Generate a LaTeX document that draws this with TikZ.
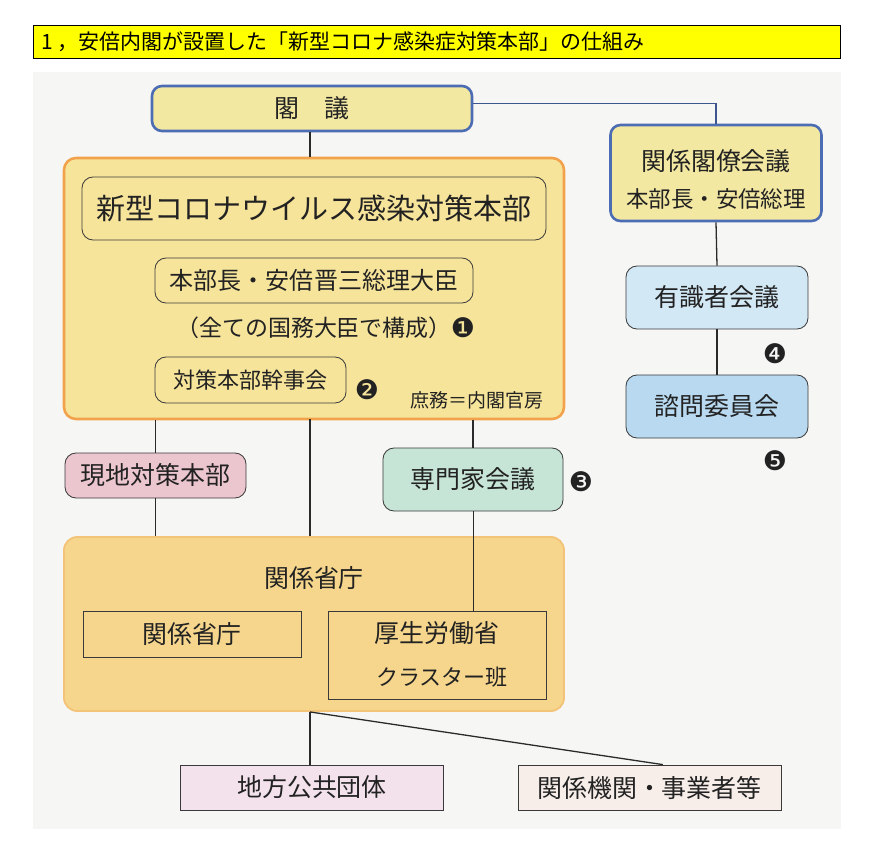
\documentclass[tikz,border=0pt]{standalone}
\usepackage{fontspec}
\setmainfont{Noto Sans CJK JP}
\newfontfamily\dvs{DejaVu Sans}
\newcommand\pxu{0.03cm}
\newcommand\fsTitle{\fontsize{17.9pt}{21pt}\selectfont}
\newcommand\fsA{\fontsize{21.3pt}{25pt}\selectfont}
\newcommand\fsB{\fontsize{24.75pt}{29pt}\selectfont}
\newcommand\fsC{\fontsize{20.5pt}{24pt}\selectfont}
\newcommand\fsD{\fontsize{19.6pt}{23pt}\selectfont}
\newcommand\fsE{\fontsize{18.8pt}{22pt}\selectfont}
\newcommand\fsF{\fontsize{16.2pt}{19pt}\selectfont}
\newcommand\fsG{\fontsize{19.2pt}{22pt}\selectfont}
\newcommand\fsN{\dvs\fontsize{23pt}{26pt}\selectfont}
\definecolor{titley}{HTML}{FFFF00}
\definecolor{panel}{HTML}{F6F6F5}
\definecolor{kakugif}{HTML}{F3E8A2}
\definecolor{blueb}{HTML}{4C6CB3}
\definecolor{hqfill}{HTML}{F7E49B}
\definecolor{orangeb}{HTML}{F1A24B}
\definecolor{lblue}{HTML}{D3E8F5}
\definecolor{mblue}{HTML}{B8D9F0}
\definecolor{pinkf}{HTML}{ECC6CF}
\definecolor{greenf}{HTML}{C7E5D7}
\definecolor{minf}{HTML}{F6D68C}
\definecolor{minb}{HTML}{F4C37A}
\definecolor{lavf}{HTML}{F3E2EC}
\definecolor{beigef}{HTML}{F7EEEA}
\definecolor{boxline}{HTML}{3A3A3A}
\definecolor{linec}{HTML}{2A2A2A}
\definecolor{txt}{HTML}{222222}
\tikzset{
  lbl/.style={inner sep=0pt, text=txt},
  titlebar/.style={draw=black, line width=0.8pt, fill=titley, inner sep=0pt},
  bluebox/.style={draw=blueb, line width=2.2pt, rounded corners=0.3cm, fill=kakugif, inner sep=0pt, text=txt},
  orangebox/.style={draw=orangeb, line width=2.2pt, rounded corners=0.36cm, fill=hqfill, inner sep=0pt},
  minbox/.style={draw=minb, line width=1.6pt, rounded corners=0.4cm, fill=minf, inner sep=0pt},
  thinbox/.style={draw=boxline, line width=0.7pt, rounded corners=0.33cm, inner sep=0pt, text=txt},
  sqbox/.style={draw=boxline, line width=0.7pt, inner sep=0pt, text=txt},
  conn/.style={draw=linec, line width=1.1pt},
  thinconn/.style={draw=linec, line width=0.6pt},
  blueconn/.style={draw=blueb!80!black, line width=0.9pt},
}
\begin{document}
\begin{tikzpicture}[x=0.03cm,y=-0.03cm]
\useasboundingbox (0,0) rectangle (869,841);
\fill[white] (0,0) rectangle (869,841);
\fill[panel] (33,72) rectangle (841,829);

% title
\node[titlebar, minimum width=807*\pxu, minimum height=33*\pxu] (title) at (436.5,41.5) {};
\node[lbl, anchor=west, text=black, font=\fsTitle] (titletxt) at (41,41.5) {1 ，安倍内閣が設置した「新型コロナ感染症対策本部」の仕組み};

% top
\node[bluebox, minimum width=320*\pxu, minimum height=45*\pxu, font=\fsA] (kakugi) at (312,108.5) {閣　議};

% HQ big box
\node[orangebox, minimum width=500*\pxu, minimum height=261*\pxu] (hq) at (314,288.5) {};
\coordinate (hqmid) at (310,419);
\node[thinbox, minimum width=464*\pxu, minimum height=63*\pxu, font=\fsB] (shingata) at (314,208.5) {新型コロナウイルス感染対策本部};
\node[thinbox, minimum width=318*\pxu, minimum height=45*\pxu, font=\fsC] (honbucho) at (314,280.5) {本部長・安倍晋三総理大臣};
\node[lbl, font=\fsD] (zenbu) at (314,328) {（全ての国務大臣で構成）};
\node[lbl, font=\fsN] (n1) at (463,328) {❶};
\node[thinbox, minimum width=191*\pxu, minimum height=46*\pxu, font=\fsE] (kanji) at (250.5,380) {対策本部幹事会};
\node[lbl, font=\fsN] (n2) at (367,390) {❷};
\node[lbl, font=\fsF] (shomu) at (477,400) {庶務＝内閣官房};

% right column
\node[bluebox, minimum width=211*\pxu, minimum height=96*\pxu] (kakuryo) at (716,173) {};
\node[lbl, font=\fsA] (kakuryo1) at (716,161) {関係閣僚会議};
\node[lbl, font=\fsG] (kakuryo2) at (716,199) {本部長・安倍総理};
\node[thinbox, fill=lblue, minimum width=182*\pxu, minimum height=63*\pxu, font=\fsA] (yushiki) at (717,297.5) {有識者会議};
\node[thinbox, fill=mblue, minimum width=182*\pxu, minimum height=63*\pxu, font=\fsA] (shimon) at (717,406.5) {諮問委員会};
\node[lbl, font=\fsN] (n4) at (775,354) {❹};
\node[lbl, font=\fsN] (n5) at (775,461) {❺};

% middle row
\node[thinbox, fill=pinkf, minimum width=181*\pxu, minimum height=45*\pxu, font=\fsA] (genchi) at (155.5,475.5) {現地対策本部};
\node[thinbox, fill=greenf, minimum width=180*\pxu, minimum height=63*\pxu, font=\fsA] (senmonka) at (473,479.5) {専門家会議};
\node[lbl, font=\fsN] (n3) at (581,482) {❸};

% ministries
\node[minbox, minimum width=500*\pxu, minimum height=174*\pxu] (min) at (314,624) {};
\node[lbl, font=\fsA] (minlbl) at (314,578) {関係省庁};
\node[sqbox, minimum width=218*\pxu, minimum height=46*\pxu, font=\fsA] (kankei) at (192,634) {関係省庁};
\node[sqbox, minimum width=218*\pxu, minimum height=88*\pxu] (kosei) at (437,655) {};
\node[lbl, font=\fsA] (kosei1) at (437,633) {厚生労働省};
\node[lbl, font=\fsE] (cluster) at (442,677) {クラスター班};

% bottom
\node[sqbox, fill=lavf, minimum width=263*\pxu, minimum height=45*\pxu, font=\fsA] (chiho) at (312,787.5) {地方公共団体};
\node[sqbox, fill=beigef, minimum width=263*\pxu, minimum height=45*\pxu, font=\fsA] (kikan) at (649.5,787.5) {関係機関・事業者等};

% connectors
\draw[blueconn] ([yshift=0.16cm]kakugi.east) -| (kakuryo.north);
\draw[conn] (kakugi.south -| hqmid) -- (hq.north -| hqmid);
\draw[conn] (kakuryo.south) -- (yushiki.north);
\draw[conn] (yushiki.south) -- (shimon.north);
\draw[conn] (genchi.north |- hq.south) -- (genchi.north);
\draw[conn] (genchi.south) -- (genchi.south |- min.north);
\draw[conn] (hqmid) -- (min.north -| hqmid);
\draw[conn] (senmonka.north |- hq.south) -- (senmonka.north);
\draw[thinconn] (senmonka.south) -- (senmonka.south |- kosei.north);
\draw[conn] (min.south -| hqmid) -- (chiho.north -| hqmid);
\draw[conn] (min.south -| hqmid) -- ([xshift=0.4cm]kikan.north);
\end{tikzpicture}
\end{document}
